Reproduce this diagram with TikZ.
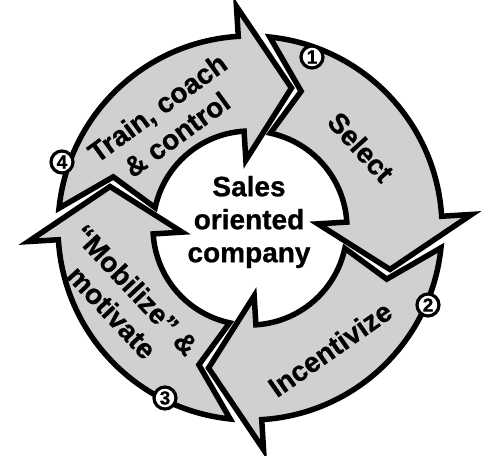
\documentclass[tikz,border=0pt]{standalone}
\usepackage{fontspec}
\setmainfont{Liberation Sans}[BoldFeatures={FakeBold=0.8}]
\definecolor{arrowgray}{RGB}{208,208,208}
\newcommand\cyclearrow[2]{%
  \draw[arrowshape, shift={(250,227)}, rotate=#1] (80.57:192pt)
    arc[start angle=80.57, end angle=0, radius=192pt]
    -- (0:222pt) -- (-20:146pt) -- (0:68pt) -- (0:97pt)
    arc[start angle=0, end angle=74.40, radius=97pt]
    -- (66:146pt) -- cycle;}
\begin{document}
\begin{tikzpicture}[x=1pt,y=1pt,
  arrowshape/.style={fill=arrowgray, draw=black, line width=5.5pt, line join=miter},
  numcirc/.style={circle, draw=black, fill=white, line width=3.2pt, minimum size=22pt, inner sep=0pt, font=\bfseries\fontsize{19}{19}\selectfont},
  lbl/.style={font=\bfseries\fontsize{28}{33}\selectfont, align=center, inner sep=0pt}]
\useasboundingbox (0,0) rectangle (484,455);
% four arrows (Select, Incentivize, Mobilize, Train)
\cyclearrow{3.5}{sel}
\cyclearrow{-86.5}{inc}
\cyclearrow{183.5}{mob}
\cyclearrow{93.5}{tra}
% numbers
\node[numcirc] (n1) at (312,398) {1};
\node[numcirc] (n2) at (428,150) {2};
\node[numcirc] (n3) at (165,57) {3};
\node[numcirc] (n4) at (62,293) {4};
% labels
\node[lbl, rotate=-48] (select) at (361,308) {Select};
\node[lbl, rotate=35] (incent) at (330,106) {Incentivize};
\node[lbl, rotate=-47] (mobil) at (124,154) {“Mobilize” \&\\motivate};
\node[lbl, rotate=36] (train) at (167,334) {Train, coach\\\& control};
\node[lbl] (center) at (249,233) {Sales\\oriented\\company};
\end{tikzpicture}
\end{document}
